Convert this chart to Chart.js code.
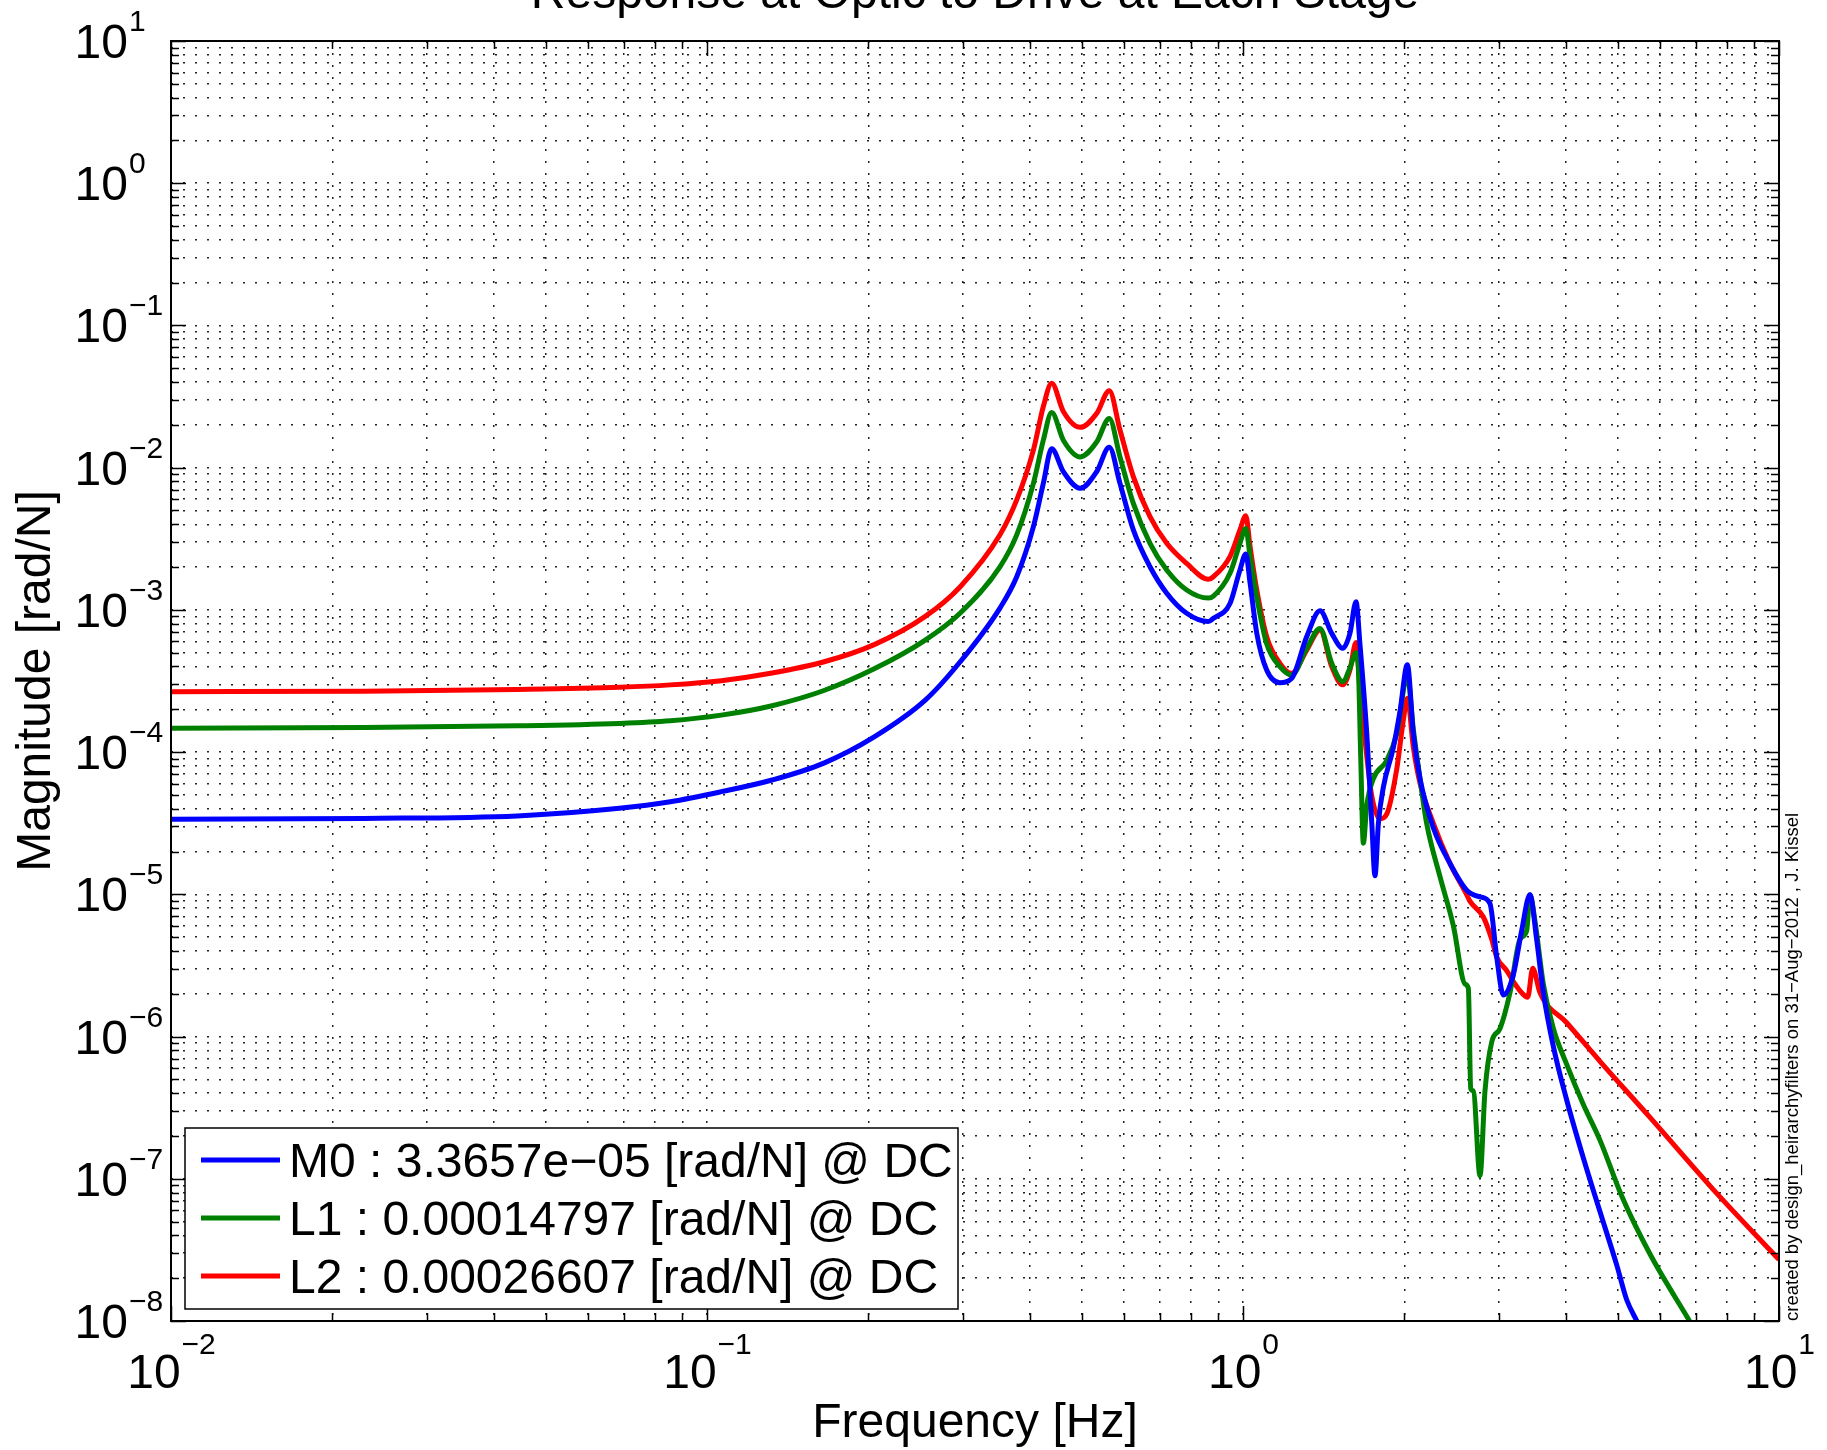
<!DOCTYPE html>
<html lang="en">
<head>
    <meta charset="UTF-8">
    <title>Response at Optic to Drive at Each Stage</title>
    <script src="https://cdn.jsdelivr.net/npm/chart.js"></script>
    <style>
        body { margin: 0; background: #fff; }
        canvas { display: block; }
    </style>
</head>
<body>
    <canvas id="bodeChart" width="1827" height="1450"></canvas>

    <script>
        // values (frequency in Hz, magnitude in rad/N)
        const freqM0 = [0.01, 0.0229, 0.0442, 0.0686, 0.0854, 0.1063, 0.1323, 0.1648, 0.2051, 0.2554, 0.2965,
            0.352, 0.3783, 0.4064, 0.4241, 0.4396, 0.4622, 0.497, 0.5336, 0.563, 0.5895, 0.6243, 0.6706, 0.7206,
            0.7852, 0.8616, 0.8806, 0.9456, 0.987, 1.012, 1.031, 1.061, 1.107, 1.172, 1.233, 1.315, 1.392, 1.464,
            1.535, 1.583, 1.625, 1.653, 1.702, 1.739, 1.763, 1.789, 1.827, 1.908, 1.963, 2.026, 2.079, 2.139,
            2.265, 2.433, 2.614, 2.768, 2.889, 2.974, 3.06, 3.193, 3.311, 3.43, 3.53, 3.634, 3.793, 4.017,
            4.315, 4.634, 4.981, 5.198, 5.43];
        const magM0 = [3.37e-5, 3.42e-5, 3.56e-5, 4.03e-5, 4.48e-5, 5.27e-5, 6.37e-5, 8.34e-5, 1.28e-4, 2.32e-4, 4.3e-4,
            1.03e-3, 1.71e-3, 3.85e-3, 7.76e-3, 1.36e-2, 9.37e-3, 7.16e-3, 9.4e-3, 1.39e-2, 7.76e-3, 3.65e-3, 2.01e-3, 1.31e-3,
            9.46e-4, 8.27e-4, 8.73e-4, 1.11e-3, 1.91e-3, 2.47e-3, 1.54e-3, 6.84e-4, 3.78e-4, 3.08e-4, 3.3e-4, 6.49e-4, 9.86e-4, 6.84e-4,
            5.37e-4, 6.84e-4, 1.14e-3, 5.7e-4, 1.34e-4, 3.16e-5, 1.35e-5, 3.16e-5, 5.64e-5, 1.08e-4, 1.93e-4, 4.12e-4, 1.34e-4, 6.52e-5,
            2.94e-5, 1.65e-5, 1.07e-5, 9.6e-6, 8.6e-6, 3.62e-6, 1.96e-6, 2.71e-6, 5.57e-6, 9.95e-6, 4.83e-6, 2.03e-6, 8.53e-7, 3.58e-7,
            1.4e-7, 5.88e-8, 2.47e-8, 1.41e-8, 1.0e-8];

        const freqL1 = [0.01, 0.0229, 0.0442, 0.0686, 0.0854, 0.1063, 0.1323, 0.1648, 0.2051, 0.2554, 0.2965,
            0.352, 0.3783, 0.4064, 0.4241, 0.4396, 0.4622, 0.497, 0.5336, 0.563, 0.5895, 0.6243, 0.6706, 0.7206,
            0.7852, 0.8616, 0.8806, 0.9456, 0.987, 1.012, 1.031, 1.061, 1.107, 1.172, 1.233, 1.315, 1.392, 1.464,
            1.535, 1.583, 1.625, 1.641, 1.658, 1.677, 1.702, 1.751, 1.854, 1.935, 2.026, 2.079, 2.139, 2.201,
            2.331, 2.469, 2.596, 2.633, 2.66, 2.69, 2.768, 2.828, 2.911, 3.017, 3.148, 3.287, 3.383, 3.43,
            3.506, 3.634, 3.793, 4.017, 4.315, 4.634, 5.088, 5.745, 6.81];
        const magL1 = [1.47e-4, 1.49e-4, 1.53e-4, 1.59e-4, 1.66e-4, 1.82e-4, 2.12e-4, 2.7e-4, 3.85e-4, 6.13e-4, 9.46e-4,
            2.01e-3, 3.37e-3, 7.76e-3, 1.56e-2, 2.44e-2, 1.56e-2, 1.19e-2, 1.52e-2, 2.22e-2, 1.19e-2, 5.61e-3, 2.94e-3, 1.91e-3,
            1.38e-3, 1.21e-3, 1.25e-3, 1.81e-3, 2.94e-3, 3.74e-3, 2.37e-3, 1.23e-3, 5.77e-4, 3.99e-4, 3.48e-4, 5.37e-4, 7.41e-4, 4.21e-4,
            3.13e-4, 3.9e-4, 5.0e-4, 3.96e-4, 9.35e-5, 2.29e-5, 4.22e-5, 6.52e-5, 8.71e-5, 1.34e-4, 3.43e-4, 1.44e-4, 6.52e-5, 3.16e-5,
            1.33e-5, 6.0e-6, 2.34e-6, 2.18e-6, 4.29e-7, 4.14e-7, 1.05e-7, 4.14e-7, 9.16e-7, 1.14e-6, 2.03e-6, 4.83e-6, 5.57e-6, 9.95e-6,
            6.45e-6, 2.34e-6, 1.14e-6, 6.38e-7, 3.33e-7, 1.87e-7, 7.57e-8, 2.96e-8, 1.0e-8];

        const freqL2 = [0.01, 0.0229, 0.0442, 0.0686, 0.0854, 0.1063, 0.1323, 0.1648, 0.2051, 0.2554, 0.2965,
            0.352, 0.3783, 0.4064, 0.4241, 0.4396, 0.4622, 0.497, 0.5336, 0.563, 0.5895, 0.6243, 0.6706, 0.7206,
            0.7852, 0.8616, 0.8806, 0.9456, 0.987, 1.012, 1.031, 1.061, 1.107, 1.172, 1.233, 1.315, 1.392, 1.464,
            1.535, 1.583, 1.625, 1.653, 1.702, 1.739, 1.801, 1.854, 1.935, 1.991, 2.026, 2.079, 2.139, 2.265,
            2.433, 2.614, 2.652, 2.808, 2.911, 2.974, 3.104, 3.218, 3.311, 3.398, 3.471, 3.582, 4.017, 4.634,
            5.745, 7.52, 10];
        const magL2 = [2.66e-4, 2.68e-4, 2.76e-4, 2.86e-4, 2.97e-4, 3.18e-4, 3.6e-4, 4.3e-4, 5.7e-4, 9.0e-4, 1.45e-3,
            3.37e-3, 5.93e-3, 1.33e-2, 2.69e-2, 3.92e-2, 2.48e-2, 1.92e-2, 2.41e-2, 3.48e-2, 1.84e-2, 8.65e-3, 4.52e-3, 2.94e-3,
            2.12e-3, 1.64e-3, 1.71e-3, 2.37e-3, 3.65e-3, 4.59e-3, 2.78e-3, 1.38e-3, 6.49e-4, 4.21e-4, 3.58e-4, 5.22e-4, 7.23e-4, 3.99e-4,
            2.97e-4, 3.78e-4, 5.89e-4, 2.76e-4, 9.35e-5, 4.89e-5, 3.4e-5, 3.66e-5, 7.53e-5, 1.67e-4, 2.39e-4, 1.08e-4, 6.05e-5, 3.16e-5,
            1.65e-5, 9.95e-6, 8.93e-6, 6.93e-6, 4.83e-6, 3.62e-6, 2.91e-6, 2.34e-6, 2.03e-6, 1.89e-6, 3.02e-6, 2.03e-6, 1.25e-6, 6.7e-7,
            2.7e-7, 8.5e-8, 2.7e-8];

        const seriesLabels = [
            'M0 : 3.3657e\u221205 [rad/N] @ DC',
            'L1 : 0.00014797 [rad/N] @ DC',
            'L2 : 0.00026607 [rad/N] @ DC'
        ];
        const seriesColors = ['#0000ff', '#008000', '#ff0000'];

        const xDecades = [-2, -1, 0, 1];
        const yDecades = [-8, -7, -6, -5, -4, -3, -2, -1, 0, 1];

        const titleText = 'Response at Optic to Drive at Each Stage';
        const xTitle = 'Frequency [Hz]';
        const yTitle = 'Magnitude [rad/N]';
        const stampText = 'created by design_heirarchyfilters on 31\u2212Aug\u22122012 , J. Kissel';

        const FONT = '"Liberation Sans", Arial, Helvetica, sans-serif';

        // all 1..9 x 10^n values inside the decades, for grid and ticks
        function logGridValues(decades) {
            const vals = [];
            for (let i = 0; i < decades.length - 1; i++) {
                for (let m = 1; m <= 9; m++) vals.push(m * Math.pow(10, decades[i]));
            }
            vals.push(Math.pow(10, decades[decades.length - 1]));
            return vals;
        }
        const xGrid = logGridValues(xDecades);
        const yGrid = logGridValues(yDecades);

        function isDecade(v) {
            const l = Math.log10(v);
            return Math.abs(l - Math.round(l)) < 1e-9;
        }

        function toPoints(fs, ms) {
            return fs.map((f, i) => ({ x: f, y: ms[i] }));
        }

        const decorations = {
            id: 'decorations',
            afterDraw(chart) {
                const { ctx, chartArea: a, scales } = chart;
                const xs = scales.x, ys = scales.y;
                ctx.save();

                // tick marks on all four sides
                ctx.strokeStyle = '#000';
                ctx.lineWidth = 1.5;
                ctx.beginPath();
                xGrid.forEach(v => {
                    const px = Math.round(xs.getPixelForValue(v)) + 0.5;
                    const len = isDecade(v) ? 15 : 8;
                    ctx.moveTo(px, a.bottom); ctx.lineTo(px, a.bottom - len);
                    ctx.moveTo(px, a.top); ctx.lineTo(px, a.top + len);
                });
                yGrid.forEach(v => {
                    const py = Math.round(ys.getPixelForValue(v)) + 0.5;
                    const len = isDecade(v) ? 15 : 8;
                    ctx.moveTo(a.left, py); ctx.lineTo(a.left + len, py);
                    ctx.moveTo(a.right, py); ctx.lineTo(a.right - len, py);
                });
                ctx.stroke();

                // axes box
                ctx.lineWidth = 2;
                ctx.strokeRect(a.left, a.top, a.right - a.left, a.bottom - a.top);

                ctx.fillStyle = '#000';
                const big = '48px ' + FONT;
                const small = '30px ' + FONT;

                // x tick labels: 10 with exponent, centered on the tick
                xDecades.forEach(d => {
                    const px = xs.getPixelForValue(Math.pow(10, d));
                    const exp = d < 0 ? '\u2212' + Math.abs(d) : String(d);
                    ctx.font = big;
                    const wb = ctx.measureText('10').width;
                    ctx.font = small;
                    const ws = ctx.measureText(exp).width;
                    const x0 = px - (wb + ws) / 2;
                    ctx.textAlign = 'left';
                    ctx.textBaseline = 'alphabetic';
                    ctx.font = big;
                    ctx.fillText('10', x0, 1388);
                    ctx.font = small;
                    ctx.fillText(exp, x0 + wb + 1, 1354);
                });

                // y tick labels
                yDecades.forEach(d => {
                    const py = ys.getPixelForValue(Math.pow(10, d));
                    const exp = d < 0 ? '\u2212' + Math.abs(d) : String(d);
                    ctx.textBaseline = 'alphabetic';
                    ctx.font = big;
                    ctx.textAlign = 'right';
                    ctx.fillText('10', 128, py + 17);
                    ctx.font = small;
                    ctx.textAlign = 'left';
                    ctx.fillText(exp, 129, py - 10);
                });

                // titles
                ctx.font = big;
                ctx.textAlign = 'center';
                ctx.textBaseline = 'alphabetic';
                ctx.fillText(xTitle, (a.left + a.right) / 2, 1437);
                ctx.fillText(titleText, (a.left + a.right) / 2, 8);

                ctx.save();
                ctx.translate(50, (a.top + a.bottom) / 2);
                ctx.rotate(-Math.PI / 2);
                ctx.fillText(yTitle, 0, 0);
                ctx.restore();

                // stamp along the right edge
                ctx.save();
                ctx.font = '18.5px ' + FONT;
                ctx.translate(1798, a.bottom);
                ctx.rotate(-Math.PI / 2);
                ctx.textAlign = 'left';
                ctx.fillText(stampText, 0, 0);
                ctx.restore();

                // legend box
                const lx = 185, ly = 1128, lw = 773, lh = 181;
                ctx.fillStyle = '#fff';
                ctx.fillRect(lx, ly, lw, lh);
                ctx.strokeStyle = '#000';
                ctx.lineWidth = 1.5;
                ctx.strokeRect(lx, ly, lw, lh);
                const rows = [1160, 1218, 1276];
                chart.data.datasets.forEach((ds, i) => {
                    ctx.strokeStyle = ds.borderColor;
                    ctx.lineWidth = 5;
                    ctx.beginPath();
                    ctx.moveTo(201, rows[i]);
                    ctx.lineTo(280, rows[i]);
                    ctx.stroke();
                    ctx.fillStyle = '#000';
                    ctx.font = big;
                    ctx.textAlign = 'left';
                    ctx.textBaseline = 'alphabetic';
                    ctx.fillText(ds.label, 289, rows[i] + 17);
                });

                ctx.restore();
            }
        };

        const gridStyle = {
            drawTicks: false,
            color: '#222',
            lineWidth: 1.5
        };

        const ctx = document.getElementById('bodeChart').getContext('2d');
        const chart = new Chart(ctx, {
            type: 'scatter',
            data: {
                datasets: [
                    { label: seriesLabels[0], data: toPoints(freqM0, magM0), borderColor: seriesColors[0] },
                    { label: seriesLabels[1], data: toPoints(freqL1, magL1), borderColor: seriesColors[1] },
                    { label: seriesLabels[2], data: toPoints(freqL2, magL2), borderColor: seriesColors[2] }
                ].map(d => Object.assign(d, {
                    showLine: true,
                    pointRadius: 0,
                    borderWidth: 5,
                    cubicInterpolationMode: 'monotone',
                    clip: { left: 0, top: 0, right: 0, bottom: 0 }
                }))
            },
            options: {
                responsive: false,
                animation: false,
                layout: { padding: { left: 171, right: 48, top: 41, bottom: 129 } },
                plugins: {
                    legend: { display: false },
                    tooltip: { enabled: false }
                },
                scales: {
                    x: {
                        type: 'logarithmic',
                        min: 0.01,
                        max: 10,
                        afterBuildTicks: axis => { axis.ticks = xGrid.map(v => ({ value: v })); },
                        ticks: { display: false },
                        grid: gridStyle,
                        border: { display: false, dash: [2, 10] }
                    },
                    y: {
                        type: 'logarithmic',
                        min: 1e-8,
                        max: 10,
                        afterBuildTicks: axis => { axis.ticks = yGrid.map(v => ({ value: v })); },
                        ticks: { display: false },
                        grid: gridStyle,
                        border: { display: false, dash: [2, 10] }
                    }
                }
            },
            plugins: [decorations]
        });
    </script>
</body>
</html>
